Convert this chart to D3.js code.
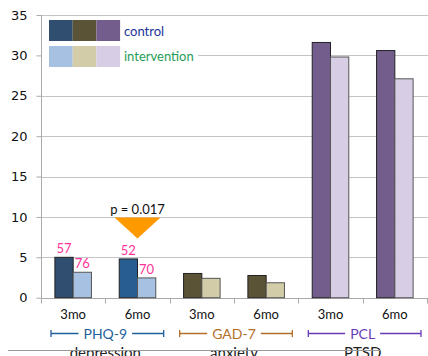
<!DOCTYPE html>
<html>
<head>
<meta charset="utf-8">
<script src="https://cdn.jsdelivr.net/npm/d3@7"></script>
<style>
    body { margin: 0; background: #fff; }
    svg { display: block; font-family: Lato, "DejaVu Sans", sans-serif; }
    .grid line { stroke: #c4c4c4; }
</style>
</head>
<body>
<svg id="chart" width="428" height="356"></svg>
<script>
// chart values
const timepoints = ["3mo", "6mo", "3mo", "6mo", "3mo", "6mo"];
const scales = ["PHQ-9", "PHQ-9", "GAD-7", "GAD-7", "PCL", "PCL"];
const control = [5.0, 4.8, 3.0, 2.75, 31.6, 30.6];
const intervention = [3.15, 2.45, 2.4, 1.85, 29.8, 27.1];
const yTicks = [0, 5, 10, 15, 20, 25, 30, 35];
const sampleSizes = [["57", "76"], ["52", "70"]];
const scaleGroups = [
    {name: "PHQ-9", label: "depression", color: "#1f5f9a"},
    {name: "GAD-7", label: "anxiety", color: "#b3702a"},
    {name: "PCL", label: "PTSD", color: "#6a3bb8"}
];
const controlFill = ["#2f4e70", "#285d91", "#5a5336", "#5a5336", "#735d8d", "#735d8d"];
const interventionFill = ["#a7c1e2", "#a7c1e2", "#d2cda8", "#d2cda8", "#d7cde5", "#d7cde5"];

const svg = d3.select("#chart");
const margins = {left: 41, right: 1, top: 15, bottom: 58};
const width = 428, height = 356;

const keys = timepoints.map((t, i) => i);

const x = d3.scaleBand()
    .domain(keys)
    .range([margins.left, width - margins.right]);
const inner = d3.scaleBand()
    .domain(["control", "intervention"])
    .range([0, x.bandwidth()])
    .paddingInner(0)
    .paddingOuter(0.76);
const y = d3.scaleLinear()
    .domain([0, 35])
    .range([height - margins.bottom - 0.3, margins.top]);

// title, pushed mostly out of the frame like the reference
svg.append("text")
    .attr("x", 272)
    .attr("y", -3)
    .attr("text-anchor", "middle")
    .style("font-size", "15px")
    .text("Mean psychological distress and total symptom scores");

// grid lines
svg.append("g")
    .attr("class", "grid")
    .selectAll("line")
    .data(yTicks.filter(d => d > 0))
    .enter()
    .append("line")
    .attr("x1", margins.left)
    .attr("x2", width)
    .attr("y1", d => Math.round(y(d)) + 0.5)
    .attr("y2", d => Math.round(y(d)) + 0.5);

// y axis
const yAxis = d3.axisLeft(y).tickValues(yTicks).tickSize(5).tickPadding(9);
const yG = svg.append("g")
    .attr("transform", `translate(${margins.left + 0.5},0)`)
    .call(yAxis);
yG.select(".domain").attr("stroke", "#aaa").attr("d", `M0,${y(35)}V${y(0) + 4}`);
yG.selectAll(".tick line").attr("stroke", "#aaa");
yG.selectAll(".tick text")
    .style("font-size", "13px")
    .style("font-family", "'DejaVu Sans', sans-serif")
    .attr("fill", "#111");

// x axis baseline and tick marks
const base = Math.round(y(0)) + 0.5;
svg.append("line")
    .attr("x1", margins.left).attr("x2", width)
    .attr("y1", base).attr("y2", base)
    .attr("stroke", "#aaa");
svg.append("g")
    .selectAll("line")
    .data(keys.concat([6]))
    .enter()
    .append("line")
    .attr("x1", d => Math.round(margins.left + d * x.step()) + 0.5)
    .attr("x2", d => Math.round(margins.left + d * x.step()) + 0.5)
    .attr("y1", base)
    .attr("y2", base + 5)
    .attr("stroke", "#aaa");

// bars
const bars = svg.append("g");
keys.forEach(i => {
    bars.append("rect")
        .attr("x", x(i) + inner("control"))
        .attr("y", y(control[i]))
        .attr("width", inner.bandwidth())
        .attr("height", y(0) - y(control[i]))
        .attr("fill", controlFill[i])
        .attr("stroke", "#222")
        .attr("stroke-width", 1);
    bars.append("rect")
        .attr("x", x(i) + inner("intervention"))
        .attr("y", y(intervention[i]))
        .attr("width", inner.bandwidth())
        .attr("height", y(0) - y(intervention[i]))
        .attr("fill", interventionFill[i])
        .attr("stroke", "#555")
        .attr("stroke-width", 1);
});

// sample sizes over the PHQ-9 bars
sampleSizes.forEach((pair, i) => {
    [control[i], intervention[i]].forEach((v, j) => {
        const series = j === 0 ? "control" : "intervention";
        svg.append("text")
            .attr("x", x(i) + inner(series) + inner.bandwidth() / 2)
            .attr("y", y(v) - 4)
            .attr("text-anchor", "middle")
            .attr("fill", "#ff3399")
            .style("font-size", "13px")
            .text(pair[j]);
    });
});

// significance marker
const pX = x(1) + x.bandwidth() / 2;
const pTop = y(10) + 0.5;
svg.append("path")
    .attr("d", `M${pX - 23},${pTop}L${pX + 23},${pTop}L${pX},${pTop + 21}Z`)
    .attr("fill", "#ff9900");
svg.append("text")
    .attr("x", pX)
    .attr("y", pTop - 3.5)
    .attr("text-anchor", "middle")
    .style("font-size", "13px")
    .attr("fill", "#111")
    .text("p = 0.017");

// time point labels
svg.append("g")
    .selectAll("text")
    .data(keys)
    .enter()
    .append("text")
    .attr("x", d => x(d) + x.bandwidth() / 2)
    .attr("y", 319)
    .attr("text-anchor", "middle")
    .style("font-size", "13px")
    .attr("fill", "#111")
    .text(d => timepoints[d]);

// bracket labels for each scale
scaleGroups.forEach((g, gi) => {
    const idx = keys.filter(i => scales[i] === g.name);
    const left = x(idx[0]) + 10;
    const right = x(idx[idx.length - 1]) + x.bandwidth() - 6;
    const mid = (x(idx[0]) + x(idx[idx.length - 1]) + x.bandwidth()) / 2;
    const yb = 333.5;
    const label = svg.append("text")
        .attr("x", mid)
        .attr("y", yb + 5)
        .attr("text-anchor", "middle")
        .attr("fill", g.color)
        .style("font-size", "14px")
        .text(g.name);
    const half = label.node().getComputedTextLength() / 2 + 5;
    const br = svg.append("g")
        .attr("stroke", g.color)
        .attr("stroke-width", 1.3)
        .attr("fill", "none");
    br.append("path").attr("d", `M${left},${yb - 3.5}V${yb + 3.5}M${left},${yb}H${mid - half}`);
    br.append("path").attr("d", `M${right},${yb - 3.5}V${yb + 3.5}M${right},${yb}H${mid + half}`);
    svg.append("text")
        .attr("x", mid)
        .attr("y", 358)
        .attr("text-anchor", "middle")
        .attr("fill", "#222")
        .style("font-size", "15px")
        .text(g.label);
});

// grey rule running across the bottom labels
svg.append("line")
    .attr("x1", 8).attr("x2", 381)
    .attr("y1", 350.5).attr("y2", 350.5)
    .attr("stroke", "#999");

// legend
const legend = svg.append("g");
legend.append("rect")
    .attr("x", margins.left + 1).attr("y", 17)
    .attr("width", 156).attr("height", 54)
    .attr("fill", "#fff");
const sw = 23.7;
[controlFill[0], controlFill[2], controlFill[4]].forEach((c, i) => {
    legend.append("rect")
        .attr("x", 49 + i * sw).attr("y", 20)
        .attr("width", sw).attr("height", 21)
        .attr("fill", c);
});
[interventionFill[0], interventionFill[2], interventionFill[4]].forEach((c, i) => {
    legend.append("rect")
        .attr("x", 49 + i * sw).attr("y", 46)
        .attr("width", sw).attr("height", 21)
        .attr("fill", c);
});
legend.append("text")
    .attr("x", 124).attr("y", 36)
    .attr("fill", "#1a3399")
    .style("font-size", "13px")
    .text("control");
legend.append("text")
    .attr("x", 124).attr("y", 61)
    .attr("fill", "#1f9d55")
    .style("font-size", "13px")
    .text("intervention");
</script>
</body>
</html>
